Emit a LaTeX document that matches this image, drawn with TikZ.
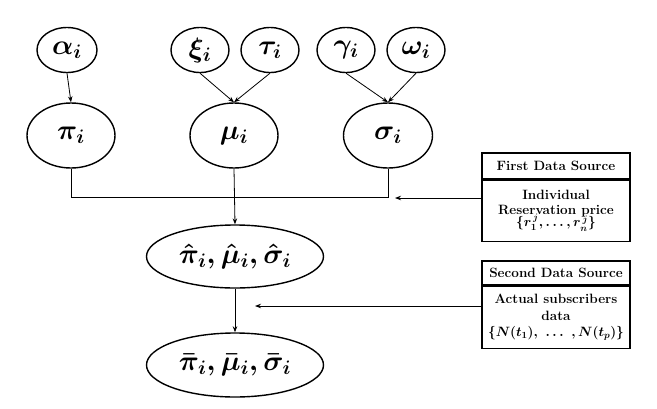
\RequirePackage{fix-cm}
\documentclass[tikz,border=0pt]{standalone}
\usepackage{amsmath}
\usetikzlibrary{shapes.geometric,arrows.meta,calc}
\begin{document}
\begin{tikzpicture}[x=1pt,y=-1pt,
  var/.style={draw,ellipse,line width=1.4pt,inner sep=0pt,
    font=\fontsize{28}{30}\selectfont\boldmath},
  conn/.style={line width=0.8pt},
  arr/.style={conn,-{Stealth[length=6pt,width=4.5pt]}},
  boxhead/.style={draw,line width=1.3pt,minimum width=148pt,inner sep=0pt,
    font=\fontsize{13.5}{15}\selectfont\bfseries},
  boxbody/.style={draw,line width=1.3pt,minimum width=148pt,inner sep=0pt,
    align=center,font=\fontsize{13.5}{17}\selectfont\bfseries\boldmath}]
\useasboundingbox (0,0) rectangle (657,408);
% top level
\node[var,minimum width=60pt,minimum height=45pt] (alpha) at (67,50) {$\alpha_i$};
\node[var,minimum width=58pt,minimum height=45pt] (xi) at (200,50) {$\xi_i$};
\node[var,minimum width=58pt,minimum height=45pt] (tau) at (270,50) {$\tau_i$};
\node[var,minimum width=58pt,minimum height=45pt] (gamma) at (346,50) {$\gamma_i$};
\node[var,minimum width=58pt,minimum height=45pt] (omega) at (416,50) {$\omega_i$};
% second level
\node[var,minimum width=88pt,minimum height=65pt] (pi) at (71,135.5) {$\pi_i$};
\node[var,minimum width=88pt,minimum height=65pt] (mu) at (234,135.5) {$\mu_i$};
\node[var,minimum width=89pt,minimum height=65pt] (sigma) at (388,135.5) {$\sigma_i$};
% estimates
\node[var,minimum width=177pt,minimum height=63pt] (hat) at (235,256.5)
  {$\hat{\pi}_i, \hat{\mu}_i, \hat{\sigma}_i$};
\node[var,minimum width=177pt,minimum height=64pt] (bar) at (235,365)
  {$\bar{\pi}_i, \bar{\mu}_i, \bar{\sigma}_i$};
% data sources
\node[boxhead,minimum height=26pt] (h1) at (556,166) {First Data Source};
\node[boxbody,minimum height=61pt,anchor=north] (b1) at (h1.south)
  {Individual\\[-2pt]Reservation price\\[-5pt]$\{r_1^{\,j},\ldots,r_n^{\,j}\}$};
\node[boxhead,minimum height=24pt] (h2) at (556,273) {Second Data Source};
\node[boxbody,minimum height=62pt,anchor=north] (b2) at (h2.south)
  {Actual subscribers\\data\\[-1pt]$\{N(t_1),\ \ldots\ ,N(t_p)\}$};
% connectors
\draw[arr] (alpha.south) -- (pi.north);
\draw[arr] (xi.south) -- (mu.north);
\draw[arr] (tau.south) -- (mu.north);
\draw[arr] (gamma.south) -- (sigma.north);
\draw[arr] (omega.south) -- (sigma.north);
\coordinate (mL) at (71,197);
\coordinate (mR) at (388,197);
\draw[conn] (pi.south) -- (mL) -- (mR) -- (sigma.south);
\draw[arr] (mu.south) -- (hat.north);
\draw[arr] (hat.south) -- (bar.north);
\coordinate (t1) at (395,198);
\coordinate (t2) at (255,306);
\draw[arr] (b1.west |- t1) -- (t1);
\draw[arr] (b2.west |- t2) -- (t2);
\end{tikzpicture}
\end{document}
